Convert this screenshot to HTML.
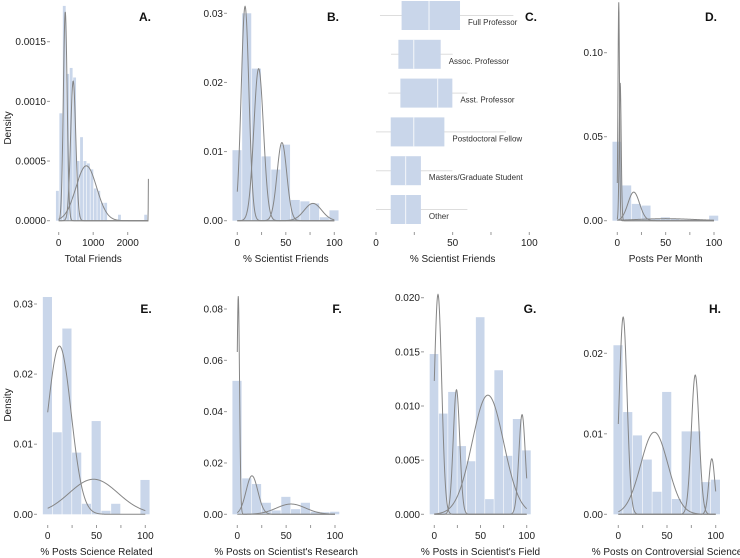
<!DOCTYPE html>
<html><head><meta charset="utf-8"><style>
body{margin:0;background:#fff}
svg{display:block;font-family:"Liberation Sans",Arial,sans-serif}
.tk{font-size:10px;fill:#222}
.ttl{font-size:10px;fill:#222}
.let{font-size:12px;font-weight:bold;fill:#111}
.cl{font-size:8px;fill:#333}
</style></head><body>
<svg id="fig" width="740" height="558" viewBox="0 0 740 558"></svg>
<script>
// ---- data ----
const binsA=[-80,20,120,220,320,420,520,620,720,820,920,1020,1120,1220,1320,1720,2480];
const histA=[0.00025,0.0009,0.0018,0.00123,0.00128,0.0012,0.0005,0.0007,0.0005,0.00048,0.00043,0.00027,0.00025,0.00015,0.00015,0.00005,0.00005];
const curvesA=[[190,55,0.00175],[420,75,0.00117],[800,300,0.00046],[2600,4,0.00035]];
const binsStd=[-5,5,15,25,35,45,55,65,75,85,95];
const histB=[0.0102,0.030,0.022,0.0093,0.0074,0.011,0.003,0.0028,0.0025,0.0005,0.0015];
const curvesB=[[8,4,0.031],[22,5,0.022],[46,5,0.0113],[78,9,0.0025]];
const histD=[0.047,0.021,0.010,0.009,0.001,0.002,0.001,0.0005,0.0005,0.0005,0.003];
const curvesD=[[1.5,0.8,0.13],[3,1,0.082],[17,6,0.017],[50,30,0.0012]];
const histE=[0.031,0.0117,0.0265,0.0088,0.0015,0.0133,0.0005,0.0015,0,0,0.0049];
const curvesE=[[12,12,0.024],[47,25,0.005]];
const histF=[0.052,0.014,0.0118,0.0045,0.0015,0.0068,0.002,0.0045,0.001,0.0008,0.001];
const curvesF=[[1,1.3,0.085],[15,6,0.015],[55,15,0.004]];
const histG=[0.0148,0.0093,0.0113,0.0063,0.0049,0.0182,0.0014,0.0133,0.0054,0.0088,0.0059];
const curvesG=[[4,4,0.0203],[24,3.5,0.0115],[58,17,0.011],[95,3.5,0.0092]];
const histH=[0.021,0.0127,0.0098,0.0068,0.0028,0.0152,0.0019,0.0103,0.0103,0.004,0.0043];
const curvesH=[[5,4,0.0245],[37,14,0.0102],[79,4,0.0173],[96,3,0.0069]];
const boxCats=["Full Professor","Assoc. Professor","Asst. Professor","Postdoctoral Fellow","Masters/Graduate Student","Other"];
const boxStats=[[2.6,16.7,34.6,54.8,89.6],[9.8,14.6,24.6,42.2,50],[8,15.9,40.2,49.8,59.6],[0,9.6,24.6,44.6,84.8],[0,9.6,19.3,29.3,49.8],[0,9.6,19.3,29.3,59.6]];

const NS="http://www.w3.org/2000/svg";
const svg=document.getElementById('fig');
function mk(t,a,p){const e=document.createElementNS(NS,t);for(const k in a)e.setAttribute(k,a[k]);(p||svg).appendChild(e);return e;}
function txt(s,a,p){const e=mk('text',a,p);e.textContent=s;return e;}

function panel(o){
  const g=mk('g',{});
  
  
  const X=v=>o.x0+(v-o.xv0)*(o.x1-o.x0)/(o.xv1-o.xv0);
  const Y=v=>o.y0-(v)*(o.y0-o.y1)/o.yv1;
  o.bins.forEach((b,i)=>{
    const r=mk('rect',{x:X(b),y:Y(o.hist[i]),width:Math.max(0,X(b+o.bw)-X(b)-0.6),height:o.y0-Y(o.hist[i]),fill:'#c9d6ea'},g);
    
    
  });
  o.curves.forEach(c=>{
    let d='';const n=400;
    for(let i=0;i<=n;i++){const v=o.cmin+(o.cmax-o.cmin)*i/n;const yv=c[2]*Math.exp(-0.5*Math.pow((v-c[0])/c[1],2));d+=(i?'L':'M')+X(v).toFixed(2)+','+Y(yv).toFixed(2);}
    const p=mk('path',{d:d,fill:'none',stroke:'#858585','stroke-width':1},g);
    
    
  });
  o.yt.forEach(t=>{
    mk('line',{x1:o.ax-5,x2:o.ax-2,y1:Y(t[0]),y2:Y(t[0]),stroke:'#999'},g);
    const l=txt(t[1],{x:o.ax-6,y:Y(t[0])+3.5,'text-anchor':'end',class:'tk'},g);
    
    
  });
  o.xt.forEach(t=>{
    mk('line',{x1:X(t),x2:X(t),y1:o.ty,y2:o.ty+3,stroke:'#999'},g);
  });
  o.xl.forEach(t=>{
    const l=txt(String(t),{x:X(t),y:o.ty+14,'text-anchor':'middle',class:'tk'},g);
    
    
  });
  const tt=txt(o.title,{x:(X(o.xv0)+X(o.xv1))/2,y:o.ty+30,'text-anchor':'middle',class:'ttl'},g);
  
  
  const lt=txt(o.letter+'.',{x:o.lx,y:o.ly,'text-anchor':'middle',class:'let'},g);
  
  
}
const std5=[0,25,50,75,100],std3=[0,50,100];
panel({letter:'A',bins:binsA,hist:histA,bw:100,curves:curvesA,cmin:0,cmax:2600,x0:58.7,x1:127.7,xv0:0,xv1:2000,y0:220.7,y1:41.7,yv1:0.0015,ax:52,
  yt:[[0,'0.0000'],[0.0005,'0.0005'],[0.001,'0.0010'],[0.0015,'0.0015']],xt:[0,1000,2000],xl:[0,1000,2000],ty:232,title:'Total Friends',lx:145,ly:21});
panel({letter:'B',bins:binsStd,hist:histB,bw:10,curves:curvesB,cmin:0,cmax:100,x0:237.3,x1:334.3,xv0:0,xv1:100,y0:220.7,y1:13.3,yv1:0.03,ax:229,
  yt:[[0,'0.00'],[0.01,'0.01'],[0.02,'0.02'],[0.03,'0.03']],xt:std5,xl:std3,ty:232,title:'% Scientist Friends',lx:333,ly:21});
panel({letter:'D',bins:binsStd,hist:histD,bw:10,curves:curvesD,cmin:0,cmax:100,x0:617.3,x1:714,xv0:0,xv1:100,y0:220.7,y1:52.7,yv1:0.1,ax:609,
  yt:[[0,'0.00'],[0.05,'0.05'],[0.1,'0.10']],xt:std5,xl:std3,ty:232,title:'Posts Per Month',lx:711,ly:21});
panel({letter:'E',bins:binsStd,hist:histE,bw:10,curves:curvesE,cmin:0,cmax:100,x0:47.7,x1:145.3,xv0:0,xv1:100,y0:514.3,y1:304,yv1:0.03,ax:39,
  yt:[[0,'0.00'],[0.01,'0.01'],[0.02,'0.02'],[0.03,'0.03']],xt:std5,xl:std3,ty:525,title:'% Posts Science Related',lx:146,ly:313});
panel({letter:'F',bins:binsStd,hist:histF,bw:10,curves:curvesF,cmin:0,cmax:100,x0:237.3,x1:335,xv0:0,xv1:100,y0:514.3,y1:309,yv1:0.08,ax:229,
  yt:[[0,'0.00'],[0.02,'0.02'],[0.04,'0.04'],[0.06,'0.06'],[0.08,'0.08']],xt:std5,xl:std3,ty:525,title:"% Posts on Scientist's Research",lx:337,ly:313});
panel({letter:'G',bins:binsStd,hist:histG,bw:10,curves:curvesG,cmin:0,cmax:100,x0:434.3,x1:526.7,xv0:0,xv1:100,y0:514.3,y1:297.7,yv1:0.02,ax:426,
  yt:[[0,'0.000'],[0.005,'0.005'],[0.01,'0.010'],[0.015,'0.015'],[0.02,'0.020']],xt:std5,xl:std3,ty:525,title:"% Posts in Scientist's Field",lx:530,ly:313});
panel({letter:'H',bins:binsStd,hist:histH,bw:10,curves:curvesH,cmin:0,cmax:100,x0:618.3,x1:715.7,xv0:0,xv1:100,y0:514.3,y1:353.3,yv1:0.02,ax:609,
  yt:[[0,'0.00'],[0.01,'0.01'],[0.02,'0.02']],xt:std5,xl:std3,ty:525,title:'% Posts on Controversial Science',lx:715,ly:313});
// Density titles
[[128],[405]].forEach(p=>{
  const t=txt('Density',{x:0,y:0,transform:'translate(11,'+p[0]+') rotate(-90)','text-anchor':'middle',class:'ttl'});
  
  
});
// Panel C boxplot
(function(){
  const g=mk('g',{});
  
  
  const X=v=>376+v*(529.3-376)/100;
  const top=1,step=38.8,h=29;
  boxStats.forEach((s,i)=>{
    const y=top+i*step;
    mk('line',{x1:X(s[0]),x2:X(s[4]),y1:y+h/2,y2:y+h/2,stroke:'#ddd','stroke-width':1},g);
    const r=mk('rect',{x:X(s[1]),y:y,width:X(s[3])-X(s[1]),height:h,fill:'#c9d6ea'},g);
    
    
    mk('line',{x1:X(s[2]),x2:X(s[2]),y1:y,y2:y+h,stroke:'#eef2f8','stroke-width':1.2},g);
    const l=txt(boxCats[i],{x:X(s[3])+8,y:y+h-5,class:'cl'},g);
    
    
  });
  std5.forEach(t=>mk('line',{x1:X(t),x2:X(t),y1:232,y2:235,stroke:'#999'},g));
  std3.forEach(t=>{const l=txt(String(t),{x:X(t),y:246,'text-anchor':'middle',class:'tk'},g);
    
    });
  const tt=txt('% Scientist Friends',{x:X(50),y:262,'text-anchor':'middle',class:'ttl'},g);
  
  
  const lt=txt('C.',{x:531,y:21,'text-anchor':'middle',class:'let'},g);
  
  
})();
</script>
</body></html>
